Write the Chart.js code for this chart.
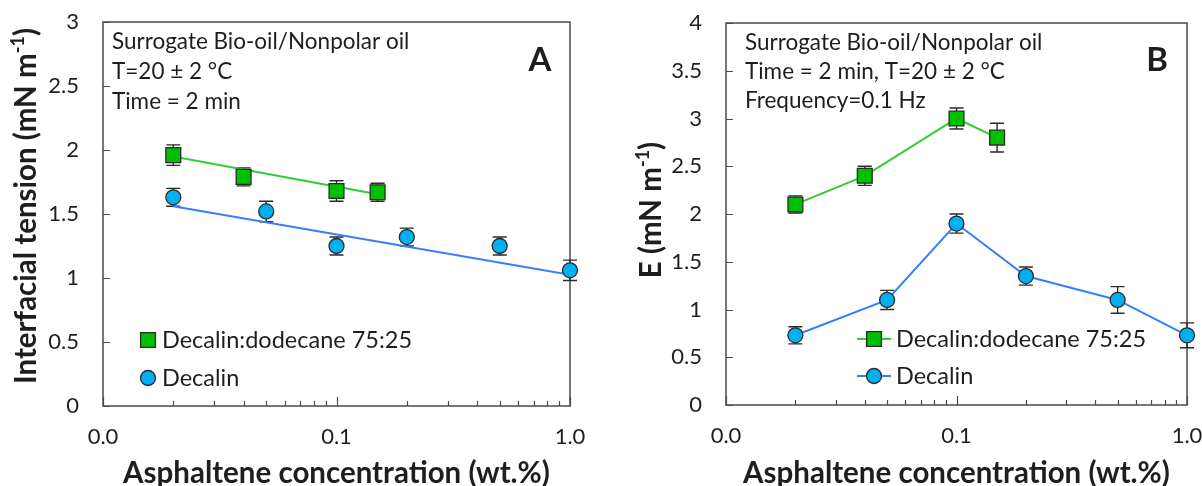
<!DOCTYPE html>
<html><head><meta charset="utf-8">
<script src="https://cdn.jsdelivr.net/npm/chart.js@4.4.1/dist/chart.umd.min.js"></script>
<style>
html,body{margin:0;padding:0;background:#fff;}
#wrap{position:relative;width:1202px;height:486px;overflow:hidden;background:#fff;}
canvas{position:absolute;top:0;}
#cA{left:0;} #cB{left:600px;}
</style></head><body>
<div id="wrap"><canvas id="cA" width="600" height="486"></canvas><canvas id="cB" width="602" height="486"></canvas></div>
<script>
// ---------- data ----------
const xTickValues = [0.01,0.02,0.03,0.04,0.05,0.06,0.07,0.08,0.09,0.1,0.2,0.3,0.4,0.5,0.6,0.7,0.8,0.9,1];
const xMajorValues = [0.01, 0.1, 1];
const xMajorLabels = ['0.0', '0.1', '1.0'];

const yTicksA = [0, 0.5, 1, 1.5, 2, 2.5, 3];
const yLabelsA = ['0', '0.5', '1', '1.5', '2', '2.5', '3'];
const yTicksB = [0, 0.5, 1, 1.5, 2, 2.5, 3, 3.5, 4];
const yLabelsB = ['0', '0.5', '1', '1.5', '2', '2.5', '3', '3.5', '4'];

const seriesNames = ['Decalin:dodecane 75:25', 'Decalin'];

// Panel A: interfacial tension
const xA_mix = [0.02, 0.04, 0.1, 0.15];
const yA_mix = [1.96, 1.79, 1.68, 1.67];
const eA_mix = [0.08, 0.07, 0.08, 0.07];
const xA_dec = [0.02, 0.05, 0.1, 0.2, 0.5, 1.0];
const yA_dec = [1.63, 1.52, 1.25, 1.32, 1.25, 1.06];
const eA_dec = [0.07, 0.08, 0.07, 0.07, 0.07, 0.08];
// trend lines
const xA_mixFit = [0.02, 0.15];
const yA_mixFit = [1.95, 1.655];
const xA_decFit = [0.02, 1.0];
const yA_decFit = [1.56, 1.025];

// Panel B: elasticity E
const xB_mix = [0.02, 0.04, 0.1, 0.15];
const yB_mix = [2.1, 2.4, 3.0, 2.8];
const eB_mix = [0.09, 0.1, 0.11, 0.15];
const xB_dec = [0.02, 0.05, 0.1, 0.2, 0.5, 1.0];
const yB_dec = [0.73, 1.1, 1.9, 1.35, 1.1, 0.73];
const eB_dec = [0.09, 0.1, 0.1, 0.095, 0.14, 0.13];

// ---------- style ----------
const FONT = 'Lato, Carlito, Calibri, "Open Sans", sans-serif';
const TEXT = '#1e1e1e';
const GREEN_FILL = '#00c000', GREEN_LINE = '#33cc33';
const BLUE_FILL = '#00b0f0', BLUE_LINE = '#3380f8';
const EDGE = '#2b2b2b', ERR = '#2b2b2b', FRAME = '#4a4a4a';

const zip = (xs, ys) => xs.map((x, i) => ({x, y: ys[i]}));

const panelPlugin = {
  id: 'panel',
  beforeDatasetsDraw(chart, args, o) {
    const ctx = chart.ctx, a = chart.chartArea, xs = chart.scales.x, ys = chart.scales.y;
    ctx.save();
    // frame
    ctx.strokeStyle = FRAME; ctx.lineWidth = 1.5;
    ctx.strokeRect(a.left, a.top, a.right - a.left, a.bottom - a.top);
    // inside ticks
    ctx.beginPath();
    ys.ticks.forEach(t => {
      const y = Math.round(ys.getPixelForValue(t.value)) + 0.5;
      ctx.moveTo(a.left, y); ctx.lineTo(a.left + 7, y);
    });
    xs.ticks.forEach(t => {
      const x = Math.round(xs.getPixelForValue(t.value)) + 0.5;
      const major = xMajorValues.some(m => Math.abs(m - t.value) < 1e-9);
      ctx.moveTo(x, a.bottom); ctx.lineTo(x, a.bottom - (major ? 9 : 5));
    });
    ctx.lineWidth = 1.2; ctx.stroke();
    // error bars
    ctx.strokeStyle = ERR; ctx.lineWidth = 1.4;
    chart.data.datasets.forEach(ds => {
      if (!ds.errors) return;
      ds.data.forEach((p, j) => {
        const e = ds.errors[j];
        const px = xs.getPixelForValue(p.x);
        const y1 = ys.getPixelForValue(p.y + e), y2 = ys.getPixelForValue(p.y - e);
        ctx.beginPath();
        ctx.moveTo(px, y1); ctx.lineTo(px, y2);
        ctx.moveTo(px - 7, y1); ctx.lineTo(px + 7, y1);
        ctx.moveTo(px - 7, y2); ctx.lineTo(px + 7, y2);
        ctx.stroke();
      });
    });
    ctx.restore();
  },
  afterDraw(chart, args, o) {
    const ctx = chart.ctx, a = chart.chartArea;
    ctx.save();
    ctx.fillStyle = TEXT;
    // annotation lines
    ctx.font = `22.5px ${FONT}`; ctx.textBaseline = 'middle'; ctx.textAlign = 'left';
    o.notes.forEach((t, i) => ctx.fillText(t, a.left + o.noteDx, a.top + o.noteY0 + i * o.noteStep));
    // panel letter
    ctx.font = `bold 33px ${FONT}`; ctx.textAlign = 'center';
    ctx.fillText(o.letter, a.right - o.letterDx, a.top + o.letterDy);
    // legend
    ctx.textAlign = 'left'; ctx.font = `23.5px ${FONT}`;
    const items = [
      {name: seriesNames[0], style: 'rect', r: 10.5, fill: GREEN_FILL, line: GREEN_LINE},
      {name: seriesNames[1], style: 'circle', r: 7.5, fill: BLUE_FILL, line: BLUE_LINE}
    ];
    items.forEach((it, i) => {
      const cy = o.legY0 + i * o.legStep, cx = o.legX;
      if (o.legLines) {
        ctx.strokeStyle = it.line; ctx.lineWidth = 2;
        ctx.beginPath(); ctx.moveTo(cx - 17, cy); ctx.lineTo(cx + 17, cy); ctx.stroke();
      }
      ctx.fillStyle = it.fill; ctx.strokeStyle = EDGE; ctx.lineWidth = 1.3;
      Chart.helpers.drawPoint(ctx, {pointStyle: it.style, radius: it.r, rotation: 0, borderWidth: 1.3}, cx, cy);
      ctx.fillStyle = TEXT;
      ctx.fillText(it.name, cx + o.legTextDx, cy);
    });
    // y title with superscript
    ctx.save();
    ctx.translate(o.yTitleX, o.yTitleY); ctx.rotate(-Math.PI / 2);
    const big = `bold 29.5px ${FONT}`, small = `bold 18px ${FONT}`;
    ctx.font = big; const w1 = ctx.measureText(o.yTitle[0]).width, w3 = ctx.measureText(o.yTitle[2]).width;
    ctx.font = small; const w2 = ctx.measureText(o.yTitle[1]).width;
    let x = -(w1 + w2 + w3) / 2;
    ctx.textBaseline = 'alphabetic'; ctx.textAlign = 'left'; ctx.fillStyle = TEXT;
    ctx.font = big; ctx.fillText(o.yTitle[0], x, 0); x += w1;
    ctx.font = small; ctx.fillText(o.yTitle[1], x, -12); x += w2;
    ctx.font = big; ctx.fillText(o.yTitle[2], x, 0);
    ctx.restore();
    ctx.restore();
  }
};

function makePanel(id, datasets, yTicks, yLabels, yMax, geom, panelOpts) {
  return new Chart(document.getElementById(id), {
    type: 'scatter',
    data: {datasets},
    plugins: [panelPlugin],
    options: {
      responsive: false, animation: false, devicePixelRatio: 1,
      layout: {padding: {left: 0, right: geom.right, top: geom.top, bottom: 0}},
      plugins: {legend: {display: false}, tooltip: {enabled: false}, panel: panelOpts},
      scales: {
        x: {
          type: 'logarithmic', min: 0.01, max: 1,
          grid: {display: false, drawTicks: false}, border: {display: false},
          afterBuildTicks: s => { s.ticks = xTickValues.map(v => ({value: v})); },
          afterFit: s => { s.height = geom.xh; s.paddingLeft = 0; s.paddingRight = 0; },
          ticks: {
            autoSkip: false, maxRotation: 0, minRotation: 0, padding: 18,
            color: TEXT, font: {family: FONT, size: 22},
            callback: v => { const k = xMajorValues.findIndex(m => Math.abs(m - v) < 1e-9); return k >= 0 ? xMajorLabels[k] : ''; }
          },
          title: {display: true, text: 'Asphaltene concentration (wt.%)', color: TEXT,
                  font: {family: FONT, size: 29.5, weight: 'bold', lineHeight: 0.85}, padding: {top: 0, bottom: 0}}
        },
        y: {
          type: 'linear', min: 0, max: yMax,
          grid: {display: false, drawTicks: false}, border: {display: false},
          afterBuildTicks: s => { s.ticks = yTicks.map(v => ({value: v})); },
          afterFit: s => { s.width = geom.yw; s.paddingTop = 0; s.paddingBottom = 0; },
          ticks: {
            padding: 24, color: TEXT, font: {family: FONT, size: 22},
            callback: (v, i) => yLabels[yTicks.indexOf(v)] ?? ''
          }
        }
      }
    }
  });
}

const mixStyle = {pointStyle: 'rect', pointRadius: 10.5, pointBackgroundColor: GREEN_FILL, pointBorderColor: EDGE, pointBorderWidth: 1.3, clip: false};
const decStyle = {pointStyle: 'circle', pointRadius: 7.5, pointBackgroundColor: BLUE_FILL, pointBorderColor: EDGE, pointBorderWidth: 1.3, clip: false};

makePanel('cA', [
  Object.assign({label: seriesNames[0], data: zip(xA_mix, yA_mix), errors: eA_mix, showLine: false}, mixStyle),
  Object.assign({label: seriesNames[1], data: zip(xA_dec, yA_dec), errors: eA_dec, showLine: false}, decStyle),
  {label: 'fit mix', data: zip(xA_mixFit, yA_mixFit), showLine: true, pointRadius: 0, borderColor: GREEN_LINE, borderWidth: 2},
  {label: 'fit dec', data: zip(xA_decFit, yA_decFit), showLine: true, pointRadius: 0, borderColor: BLUE_LINE, borderWidth: 2}
], yTicksA, yLabelsA, 3, {right: 30, top: 22, xh: 80, yw: 103}, {
  notes: ['Surrogate Bio-oil/Nonpolar oil', 'T=20 \u00B1 2 \u00B0C', 'Time = 2 min'],
  noteDx: 9, noteY0: 20, noteStep: 30,
  letter: 'A', letterDx: 30, letterDy: 38,
  legX: 148, legY0: 340, legStep: 38, legTextDx: 14, legLines: false,
  yTitle: ['Interfacial tension (mN m', '-1', ')'], yTitleX: 36, yTitleY: 206
});

makePanel('cB', [
  Object.assign({label: seriesNames[0], data: zip(xB_mix, yB_mix), errors: eB_mix, showLine: true, borderColor: GREEN_LINE, borderWidth: 2}, mixStyle),
  Object.assign({label: seriesNames[1], data: zip(xB_dec, yB_dec), errors: eB_dec, showLine: true, borderColor: BLUE_LINE, borderWidth: 2}, decStyle)
], yTicksB, yLabelsB, 4, {right: 15, top: 23, xh: 81, yw: 126}, {
  notes: ['Surrogate Bio-oil/Nonpolar oil', 'Time = 2 min, T=20 \u00B1 2 \u00B0C', 'Frequency=0.1 Hz'],
  noteDx: 19, noteY0: 20, noteStep: 29,
  letter: 'B', letterDx: 30, letterDy: 37,
  legX: 274, legY0: 339, legStep: 37, legTextDx: 22, legLines: true,
  yTitle: ['E (mN m', '-1', ')'], yTitleX: 61, yTitleY: 210
});
</script>
</body></html>
